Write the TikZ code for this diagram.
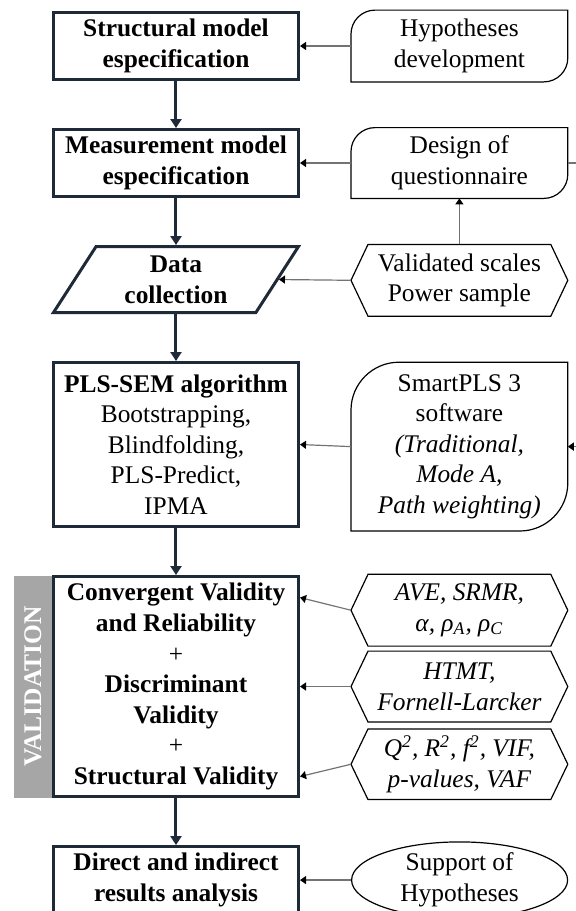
\documentclass[tikz,border=0pt]{standalone}
\usepackage{fontspec}
\setmainfont{Liberation Serif}
\usepackage{xcolor}
\usepackage{tikz}
\usetikzlibrary{shapes,shapes.geometric,arrows.meta,positioning}

\definecolor{navy}{HTML}{1F2A38}
\definecolor{bandgray}{HTML}{A6A6A6}

% outline with round top left and bottom right corners
\newcommand{\leafframe}[2]{%
  \draw[line width=0.6pt] (#1.north east) -- ([xshift=#2]#1.north west)
    arc[start angle=90, end angle=180, radius=#2] -- (#1.south west)
    -- ([xshift=-#2]#1.south east) arc[start angle=270, end angle=360, radius=#2] -- cycle;}
% outline with pointed left and right sides
\newcommand{\hexframe}[1]{%
  \draw[line width=0.6pt] ([xshift=8.5pt]#1.north west) -- ([xshift=-8.5pt]#1.north east) -- (#1.east)
    -- ([xshift=-8.5pt]#1.south east) -- ([xshift=8.5pt]#1.south west) -- (#1.west) -- cycle;}

\begin{document}
\begin{tikzpicture}[
    stage/.style={rectangle, draw=navy, line width=1.5pt, minimum width=122.5pt, align=center, font=\fontsize{12.7}{15.3}\selectfont\bfseries},
    side/.style={rectangle, minimum width=108pt, minimum height=35.5pt, align=center, font=\fontsize{12.7}{15.3}\selectfont},
    flow/.style={draw=navy, line width=1.5pt, -{Triangle[length=4.5pt,width=5.5pt]}},
    link/.style={draw=black!55, line width=0.6pt, -{Triangle[length=3pt,width=4pt,color=black]}},
    node distance=23.5pt and 25.5pt
  ]
    \useasboundingbox (-88pt,23pt) rectangle (200pt,-432.5pt);

    % Main steps
    \node[stage, minimum height=33.5pt] (stage1) {Structural model\\especification};
    \node[stage, minimum height=33.5pt, below=of stage1] (stage2) {Measurement model\\especification};
    \node[stage, trapezium, trapezium left angle=55, trapezium right angle=125, trapezium stretches body, minimum height=33pt, below=of stage2] (stage3) {Data\\collection};
    \node[stage, minimum height=82pt, font=\fontsize{12.7}{15.3}\selectfont, below=of stage3] (stage4) {\textbf{PLS-SEM algorithm}\\Bootstrapping,\\Blindfolding,\\PLS-Predict,\\IPMA};
    \node[stage, minimum height=109.5pt, below=of stage4] (stage5) {Convergent Validity\\and Reliability\\\textmd{+}\\Discriminant\\Validity\\\textmd{+}\\Structural Validity};
    \node[stage, minimum height=33.5pt, below=of stage5] (stage6) {Direct and indirect\\results analysis};

    % Validation band
    \node[fill=bandgray, text=white, rotate=90, anchor=south, minimum width=111pt, minimum height=19pt, inner sep=0pt, outer sep=0pt, font=\fontsize{12.7}{15.3}\selectfont\bfseries] (band) at (stage5.west) {VALIDATION};

    % Inputs
    \node[side, right=of stage1] (side1) {Hypotheses\\development};
    \node[side, minimum height=35pt, right=of stage2] (side2) {Design of\\questionnaire};
    \node[side, below=23pt of side2] (side3) {Validated scales\\Power sample};
    \node[side, minimum height=84pt, below=23pt of side3] (side4) {SmartPLS 3\\software\\\textit{(Traditional,}\\\textit{Mode A,}\\\textit{Path weighting)}};
    \node[side, minimum height=35pt, right=of stage5] (side6) {\textit{HTMT,}\\\textit{Fornell-Larcker}};
    \node[side, above=2.5pt of side6] (side5) {\textit{AVE, SRMR,}\\\textit{α, ρ\textsubscript{A}, ρ\textsubscript{C}}};
    \node[side, minimum height=34.5pt, below=3.5pt of side6] (side7) {\textit{Q\textsuperscript{2}, R\textsuperscript{2}, f\textsuperscript{2}, VIF,}\\\textit{p-values, VAF}};
    \node[side, ellipse, draw, line width=0.6pt, inner sep=0pt, minimum height=37pt, right=of stage6] (side8) {Support of\\Hypotheses};

    \leafframe{side1}{12pt}
    \leafframe{side2}{12pt}
    \hexframe{side3}
    \leafframe{side4}{24pt}
    \hexframe{side5}
    \hexframe{side6}
    \hexframe{side7}

    % Arrows
    \draw[flow] (stage1.south) -- (stage2.north);
    \draw[flow] (stage2.south) -- (stage3.north);
    \draw[flow] (stage3.south) -- (stage4.north);
    \draw[flow] (stage4.south) -- (stage5.north);
    \draw[flow] (stage5.south) -- (stage6.north);

    \draw[link] (side1.west) -- (stage1.east);
    \draw[link] (side2.west) -- (stage2.east);
    \draw[link] (side3.west) -- (stage3.right side);
    \draw[link] (side3.north) -- (side2.south);
    \draw[link] (side4.west) -- (stage4.east);
    \draw[link] (side2.east) -- ++(16pt,0) |- (side4.east);
    \draw[link] (side5.west) -- ([yshift=44.5pt]stage5.east);
    \draw[link] (side6.west) -- (stage5.east);
    \draw[link] (side7.west) -- ([yshift=-45pt]stage5.east);
    \draw[link] (side8.west) -- (stage6.east);

\end{tikzpicture}
\end{document}
